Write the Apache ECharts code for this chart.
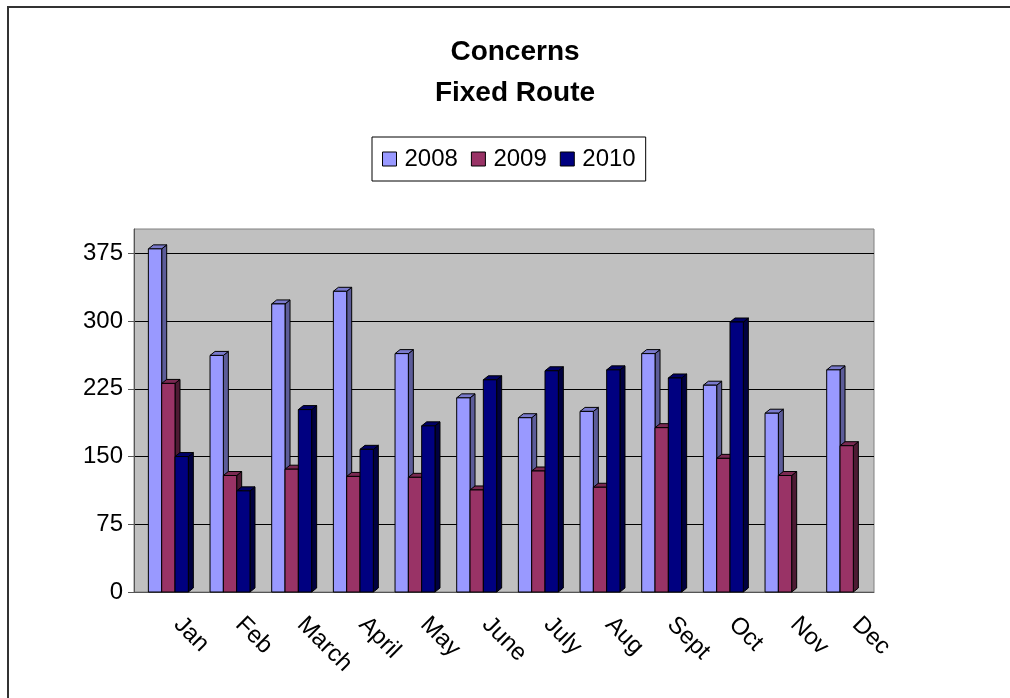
<!DOCTYPE html>
<html lang="en">
<head>
    <meta charset="UTF-8">
    <title>Concerns Fixed Route</title>
    <script src="https://cdn.jsdelivr.net/npm/echarts@6/dist/echarts.min.js"></script>
    <style>
        body { margin: 0; background: #fff; }
        #chart { width: 1010px; height: 698px; }
    </style>
</head>
<body>
<div id="chart"></div>

<script>
    // data
    var months = ['Jan', 'Feb', 'March', 'April', 'May', 'June', 'July', 'Aug', 'Sept', 'Oct', 'Nov', 'Dec'];
    var years = ['2008', '2009', '2010'];
    var y2008 = [380, 262, 319, 333, 264, 215, 193, 200, 264, 229, 198, 246];
    var y2009 = [231, 129, 136, 128, 127, 113, 134, 116, 182, 148, 129, 162];
    var y2010 = [150, 112, 202, 158, 184, 235, 245, 246, 237, 299, null, null];
    var yTicks = [0, 75, 150, 225, 300, 375];

    var font = '"Liberation Sans", Arial, sans-serif';
    var chart = echarts.init(document.getElementById('chart'));

    // fake 3d column: front face, right side and top, like the old excel chart
    function columnRenderer(slot, front, side, top) {
        return function (params, api) {
            var v = api.value(1);
            if (v == null || isNaN(v)) return;
            var cat = api.value(0);
            var base = api.coord([cat, 0]);
            var head = api.coord([cat, v]);
            var cw = api.size([1, 0])[0];
            var w = cw * 0.216;
            var x0 = base[0] - cw * 0.267 + slot * w;
            var x1 = x0 + w;
            var dx = 5, dy = 4;
            var yb = base[1], yt = head[1];
            var edge = { stroke: '#000', lineWidth: 1 };
            return {
                type: 'group',
                children: [
                    { type: 'polygon', shape: { points: [[x1, yt], [x1 + dx, yt - dy], [x1 + dx, yb - dy], [x1, yb]] },
                      style: Object.assign({ fill: side }, edge) },
                    { type: 'polygon', shape: { points: [[x0, yt], [x0 + dx, yt - dy], [x1 + dx, yt - dy], [x1, yt]] },
                      style: Object.assign({ fill: top }, edge) },
                    { type: 'rect', shape: { x: x0, y: yt, width: w, height: yb - yt },
                      style: Object.assign({ fill: front }, edge) }
                ]
            };
        };
    }

    function pairs(arr) {
        return arr.map(function (v, i) { return [i, v]; });
    }

    var option = {
        animation: false,
        textStyle: { fontFamily: font, color: '#000' },
        title: {
            text: 'Concerns\nFixed Route',
            left: 510,
            textAlign: 'center',
            top: 27,
            textStyle: { fontFamily: font, fontSize: 28, fontWeight: 'bold', lineHeight: 41, color: '#000' }
        },
        legend: {
            left: 372,
            top: 137,
            padding: [10, 10],
            itemWidth: 14,
            itemHeight: 14,
            itemGap: 13,
            icon: 'rect',
            borderColor: '#000',
            borderWidth: 1,
            itemStyle: { borderColor: '#000', borderWidth: 1 },
            textStyle: { fontFamily: font, fontSize: 24, color: '#000', padding: [0, 0, 0, 3] },
            data: years
        },
        graphic: [{
            type: 'rect',
            shape: { x: 8, y: 7, width: 1010, height: 700 },
            style: { fill: 'none', stroke: '#333', lineWidth: 2 },
            z: -10
        }],
        grid: {
            left: 134,
            right: 136,
            top: 229,
            bottom: 106,
            show: true,
            backgroundColor: '#C0C0C0',
            borderColor: '#808080',
            borderWidth: 1
        },
        xAxis: {
            type: 'category',
            data: months,
            axisLine: { lineStyle: { color: '#555', width: 1 } },
            axisTick: { length: 6, lineStyle: { color: '#555' } },
            axisLabel: { rotate: -45, margin: 16, padding: [0, 0, 0, 18], fontSize: 24, color: '#000', fontFamily: font, interval: 0 }
        },
        yAxis: {
            type: 'value',
            min: 0,
            max: 402,
            interval: 75,
            axisLine: { show: true, lineStyle: { color: '#555' } },
            axisTick: { show: true, length: 6, lineStyle: { color: '#555' }, customValues: yTicks },
            axisLabel: { fontSize: 24, color: '#000', margin: 11, fontFamily: font, customValues: yTicks },
            splitLine: { lineStyle: { color: '#000', width: 1 } }
        },
        series: [
            { name: '2008', type: 'custom', data: pairs(y2008), encode: { x: 0, y: 1 },
              itemStyle: { color: '#9999FF' },
              renderItem: columnRenderer(0, '#9999FF', '#5C5C99', '#7A7ACC') },
            { name: '2009', type: 'custom', data: pairs(y2009), encode: { x: 0, y: 1 },
              itemStyle: { color: '#993366' },
              renderItem: columnRenderer(1, '#993366', '#4D1A33', '#7A2952') },
            { name: '2010', type: 'custom', data: pairs(y2010), encode: { x: 0, y: 1 },
              itemStyle: { color: '#000080' },
              renderItem: columnRenderer(2, '#000080', '#000040', '#000066') }
        ]
    };

    chart.setOption(option);
</script>
</body>
</html>
